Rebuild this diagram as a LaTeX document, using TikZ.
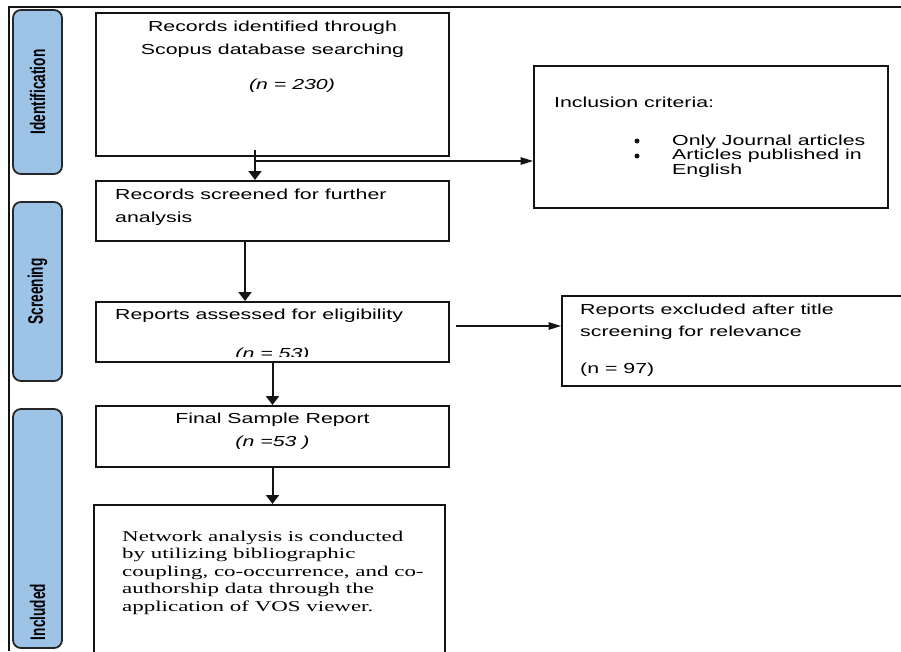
\documentclass[tikz,border=0pt]{standalone}
\usepackage{fontspec}
\setmainfont{Liberation Serif}
\newfontfamily\cuerpo[FakeStretch=1.47]{Liberation Sans}
\newfontfamily\serifa[FakeStretch=1.53]{Liberation Serif}
\newfontfamily\etapa[FakeStretch=0.65]{Liberation Sans}
\usetikzlibrary{arrows.meta, positioning}
\definecolor{azulfase}{HTML}{9DC3E6}
\definecolor{bordefase}{HTML}{262626}
\definecolor{lineacaja}{HTML}{141414}
\tikzset{
  cajaFlujo/.style={draw=lineacaja, line width=2pt, minimum width=353pt, inner sep=0pt},
  cajaFase/.style={draw=bordefase, fill=azulfase, line width=1.8pt, rounded corners=8pt,
    rotate=90, minimum height=49pt, inner sep=0pt},
  textoCaja/.style={font=\cuerpo\fontsize{14.5}{17}\selectfont, inner sep=0pt},
  textoRed/.style={font=\serifa\fontsize{15}{17.5}\selectfont, inner sep=0pt, anchor=base west},
  textoFase/.style={font=\etapa\bfseries\fontsize{21}{24}\selectfont, rotate=90, inner sep=0pt},
  vineta/.style={circle, fill=lineacaja, minimum size=5pt, inner sep=0pt},
  flechaV/.style={-{Triangle[length=9pt,width=13pt]}, line width=2pt, lineacaja},
  flechaH/.style={-{Triangle[length=12.5pt,width=7.5pt]}, line width=1.3pt, lineacaja},
}
\begin{document}
\begin{tikzpicture}[x=1pt, y=-1pt]
  \useasboundingbox (0,0) rectangle (901,651);
  \draw[line width=1.4pt, lineacaja] (9,651) -- (9,7) -- (901,7);

  % fases
  \node[cajaFase, minimum width=164pt] (fase1) at (37.5,92) {};
  \node[cajaFase, minimum width=179pt] (fase2) at (37.5,291.5) {};
  \node[cajaFase, minimum width=239pt] (fase3) at (37.5,528.5) {};
  \node[textoFase] (tfase1) at (fase1.center) {Identification};
  \node[textoFase] (tfase2) at (fase2.center) {Screening};
  \node[textoFase] (tfase3) at ([yshift=-83.5pt]fase3.center) {Included};

  % cajas del flujo
  \node[cajaFlujo, minimum height=143pt] (ident) at (272.5,84.5) {};
  \node[cajaFlujo, minimum height=60pt, below right=23pt and 0pt of ident.south west] (screen) {};
  \node[cajaFlujo, minimum height=60pt, below right=59pt and 0pt of screen.south west] (assess) {};
  \node[cajaFlujo, minimum height=61pt, below right=42pt and 0pt of assess.south west] (final) {};
  \node[cajaFlujo, minimum width=351pt, minimum height=165pt,
        below right=36pt and -2pt of final.south west] (net) {};
  \node[cajaFlujo, minimum width=354pt, minimum height=142pt] (incl) at (711,137) {};
  \node[cajaFlujo, minimum width=345pt, minimum height=90pt] (excl) at (734.5,341) {};

  % textos
  \node[textoCaja, anchor=base] (t11) at ([yshift=-19pt]ident.north) {Records identified through};
  \node[textoCaja, anchor=base] (t12) at ([yshift=-42pt]ident.north) {Scopus database searching};
  \node[textoCaja, anchor=base] (t13) at ([xshift=19.5pt,yshift=-77pt]ident.north) {\itshape (n = 230)};
  \node[textoCaja, anchor=base west] (t21) at ([xshift=20pt,yshift=-19pt]screen.north west) {Records screened for further};
  \node[textoCaja, anchor=base west] (t22) at ([xshift=20pt,yshift=-42pt]screen.north west) {analysis};
  \node[textoCaja, anchor=base west] (t31) at ([xshift=20pt,yshift=-18pt]assess.north west) {Reports assessed for eligibility};
  \begin{scope}
    \clip ([yshift=6.5pt]assess.south west) rectangle (assess.north east);
    \node[textoCaja, anchor=base] (t32) at ([yshift=-57pt]assess.north) {\itshape (n = 53)};
  \end{scope}
  \node[textoCaja, anchor=base] (t41) at ([yshift=-18pt]final.north) {Final Sample Report};
  \node[textoCaja, anchor=base] (t42) at ([yshift=-41pt]final.north) {\itshape (n =53 )};
  \node[textoRed] (t51) at ([xshift=29pt,yshift=-37pt]net.north west) {Network analysis is conducted};
  \node[textoRed] (t52) at ([xshift=29pt,yshift=-54.5pt]net.north west) {by utilizing bibliographic};
  \node[textoRed] (t53) at ([xshift=29pt,yshift=-72pt]net.north west) {coupling, co-occurrence, and co-};
  \node[textoRed] (t54) at ([xshift=29pt,yshift=-89.5pt]net.north west) {authorship data through the};
  \node[textoRed] (t55) at ([xshift=29pt,yshift=-107pt]net.north west) {application of VOS viewer.};
  \node[textoCaja, anchor=base west] (t61) at ([xshift=21pt,yshift=-42pt]incl.north west) {Inclusion criteria:};
  \node[vineta] (b1) at ([xshift=104pt,yshift=-76pt]incl.north west) {};
  \node[vineta] (b2) at ([xshift=104pt,yshift=-91pt]incl.north west) {};
  \node[textoCaja, anchor=base west] (t62) at ([xshift=139pt,yshift=-80pt]incl.north west) {Only Journal articles};
  \node[textoCaja, anchor=base west] (t63) at ([xshift=139pt,yshift=-94.5pt]incl.north west) {Articles published in};
  \node[textoCaja, anchor=base west] (t64) at ([xshift=139pt,yshift=-109pt]incl.north west) {English};
  \node[textoCaja, anchor=base west] (t71) at ([xshift=19pt,yshift=-19pt]excl.north west) {Reports excluded after title};
  \node[textoCaja, anchor=base west] (t72) at ([xshift=19pt,yshift=-41pt]excl.north west) {screening for relevance};
  \node[textoCaja, anchor=base west] (t73) at ([xshift=19pt,yshift=-78pt]excl.north west) {(n = 97)};

  % flechas
  \coordinate (bif) at ([xshift=-17.5pt,yshift=-4pt]ident.south);
  \coordinate (salExcl) at ([xshift=6pt,yshift=6pt]assess.east);
  \draw[flechaV] ([xshift=-17.5pt,yshift=7pt]ident.south) -- ([xshift=-17.5pt]screen.north);
  \draw[flechaH] (bif) -- (bif -| incl.west);
  \draw[flechaV] ([xshift=-27.5pt]screen.south) -- ([xshift=-27.5pt]assess.north);
  \draw[flechaV] (assess.south) -- (final.north);
  \draw[flechaH] (salExcl) -- (salExcl -| excl.west);
  \draw[flechaV] (final.south) -- (final.south |- net.north);
\end{tikzpicture}
\end{document}
